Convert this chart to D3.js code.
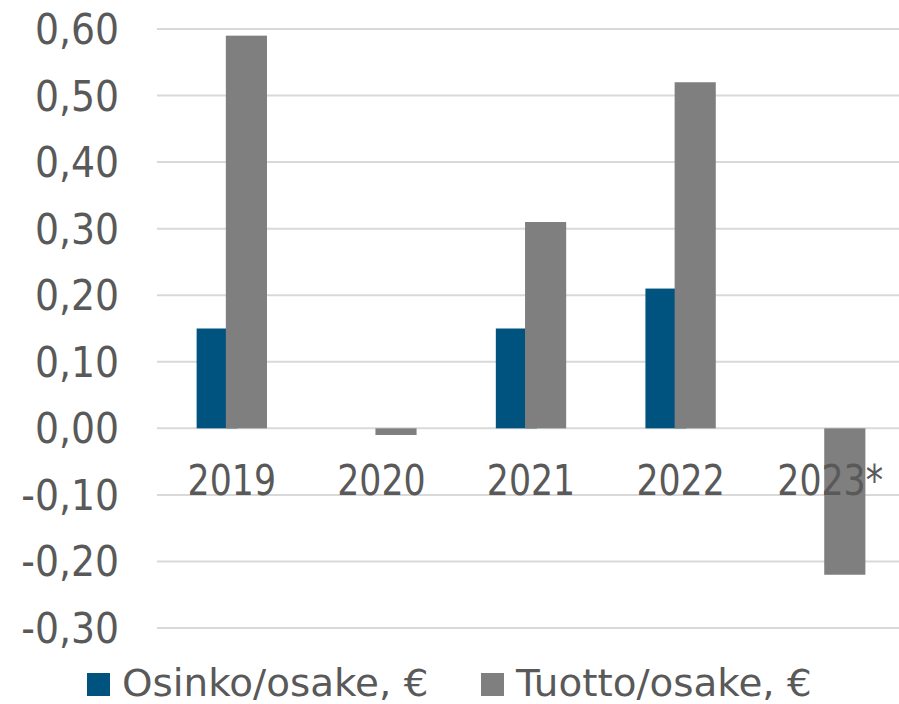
<!DOCTYPE html>
<html><head><meta charset="utf-8">
<script src="https://cdn.jsdelivr.net/npm/d3@7"></script>
<style>body{margin:0;background:#fff}svg{display:block}</style>
</head><body>
<svg id="c" width="899" height="704"></svg>
<script>
const categories = ["2019","2020","2021","2022","2023*"];
const osinko = [0.15, 0, 0.15, 0.21, 0];
const tuotto = [0.59, -0.01, 0.31, 0.52, -0.22];
const seriesNames = ["Osinko/osake, €","Tuotto/osake, €"];
const colors = ["#00527f","#7f7f7f"];
const yTicks = [-0.3,-0.2,-0.1,0,0.1,0.2,0.3,0.4,0.5,0.6];

(function(){
const svg = d3.select("#c");
const fontC = "'DejaVu Sans Condensed', 'DejaVu Sans', sans-serif";
const fontN = "'DejaVu Sans', sans-serif";
const pL = 157, pR = 905, pT = 29, pB = 628;
const x = d3.scaleBand().domain(categories).range([pL, pR]).padding(0);
const y = d3.scaleLinear().domain([-0.3, 0.6]).range([pB, pT]);

function txt(g, tx, ty, anchor, s, font, fs, sx) {
  return g.append("text")
    .attr("transform", `translate(${tx},${ty}) scale(${sx},1)`)
    .attr("text-anchor", anchor).attr("font-family", font).attr("font-size", fs)
    .attr("fill", "#595959").text(s);
}

svg.append("g").selectAll("line").data(yTicks).join("line")
  .attr("x1", pL).attr("x2", 899)
  .attr("y1", d => y(d)).attr("y2", d => y(d))
  .attr("stroke", "#d9d9d9").attr("stroke-width", 2);

const fmt = d => d3.format(".2f")(d).replace("−","-").replace(".", ",");
const yg = svg.append("g");
yTicks.forEach(d => txt(yg, 119, y(d) + 15, "end", fmt(d), fontC, 42, 1.0));

const bw = x.bandwidth() * 0.275;
const overlap = bw * 0.29;
const groupW = 2 * bw - overlap;
const off = (x.bandwidth() - groupW) / 2;

[osinko, tuotto].forEach((vals, si) => {
  svg.append("g").selectAll("rect").data(vals.map((v, i) => ({v, c: categories[i]}))).join("rect")
    .attr("x", d => x(d.c) + off + si * (bw - overlap))
    .attr("width", bw)
    .attr("y", d => y(Math.max(0, d.v)))
    .attr("height", d => Math.abs(y(d.v) - y(0)))
    .attr("fill", colors[si]);
});

const xg = svg.append("g");
categories.forEach(d => txt(xg, x(d) + x.bandwidth() / 2, 495, "middle", d, fontC, 42, 0.92));

const lg = svg.append("g");
const lx = [87, 481];
seriesNames.forEach((n, i) => {
  lg.append("rect").attr("x", lx[i]).attr("y", 673).attr("width", 23).attr("height", 23).attr("fill", colors[i]);
  txt(lg, lx[i] + 35, 696, "start", n, fontN, 37, 1.05);
});
})();
</script>
</body></html>
